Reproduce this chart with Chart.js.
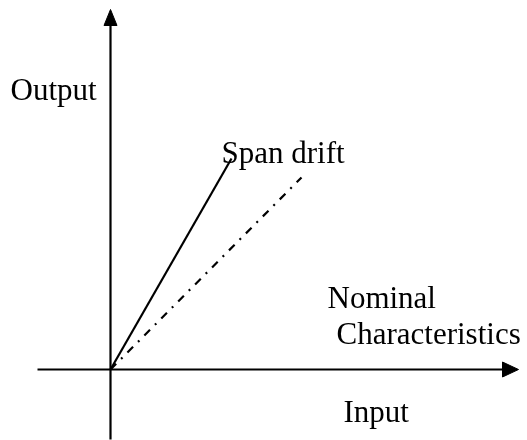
<!DOCTYPE html>
<html>
<head>
<meta charset="utf-8">
<script src="https://cdn.jsdelivr.net/npm/chart.js@4/dist/chart.umd.min.js"></script>
<style>
  html, body { margin: 0; padding: 0; background: #fff; }
  #wrap { width: 527px; height: 440px; }
</style>
</head>
<body>
<div id="wrap"><canvas id="chart"></canvas></div>
<script>
// origin of the sketch sits at (0,0); units are roughly screen pixels
const xAxisLine = [{ x: -73, y: 0 }, { x: 395, y: 0 }];
const xArrow = [{ x: 392, y: 7.5 }, { x: 408, y: 0 }, { x: 392, y: -7.5 }, { x: 392, y: 7.5 }];
const yAxisLine = [{ x: 0, y: -70 }, { x: 0, y: 347 }];
const yArrow = [{ x: -6.5, y: 344 }, { x: 0, y: 360 }, { x: 6.5, y: 344 }, { x: -6.5, y: 344 }];
const spanDrift = [{ x: 0, y: 0 }, { x: 121, y: 211 }];
const nominal = [{ x: 0, y: 0 }, { x: 191, y: 192 }];

// text labels: [text, x, y] (left, baseline)
const labels = [
  ["Output", -100, 270],
  ["Span drift", 111, 207],
  ["Nominal", 217, 62],
  ["Characteristics", 226, 26],
  ["Input", 233, -52]
];

const textPlugin = {
  id: "sketchText",
  afterDatasetsDraw(chart) {
    const { ctx, scales } = chart;
    ctx.save();
    ctx.fillStyle = "#000";
    ctx.font = "31px 'Liberation Serif', 'Times New Roman', serif";
    ctx.textBaseline = "alphabetic";
    ctx.textAlign = "left";
    labels.forEach(([t, x, y]) => {
      ctx.fillText(t, scales.x.getPixelForValue(x), scales.y.getPixelForValue(y));
    });
    ctx.restore();
  }
};

const line = (data, extra) => Object.assign({
  data: data,
  borderColor: "#000",
  backgroundColor: "#000",
  borderWidth: 2.2,
  pointRadius: 0,
  fill: false,
  tension: 0
}, extra);

new Chart(document.getElementById("chart"), {
  type: "line",
  data: {
    datasets: [
      line(xAxisLine),
      line(xArrow, { fill: "shape", borderWidth: 1 }),
      line(yAxisLine),
      line(yArrow, { fill: "shape", borderWidth: 1 }),
      line(spanDrift),
      line(nominal, { borderDash: [8, 7, 2, 7] })
    ]
  },
  options: {
    responsive: true,
    maintainAspectRatio: false,
    animation: false,
    layout: { padding: 0 },
    plugins: { legend: { display: false }, tooltip: { enabled: false } },
    scales: {
      x: { type: "linear", min: -110.5, max: 416.5, display: false },
      y: { type: "linear", min: -70.5, max: 369.5, display: false }
    }
  },
  plugins: [textPlugin]
});
</script>
</body>
</html>
